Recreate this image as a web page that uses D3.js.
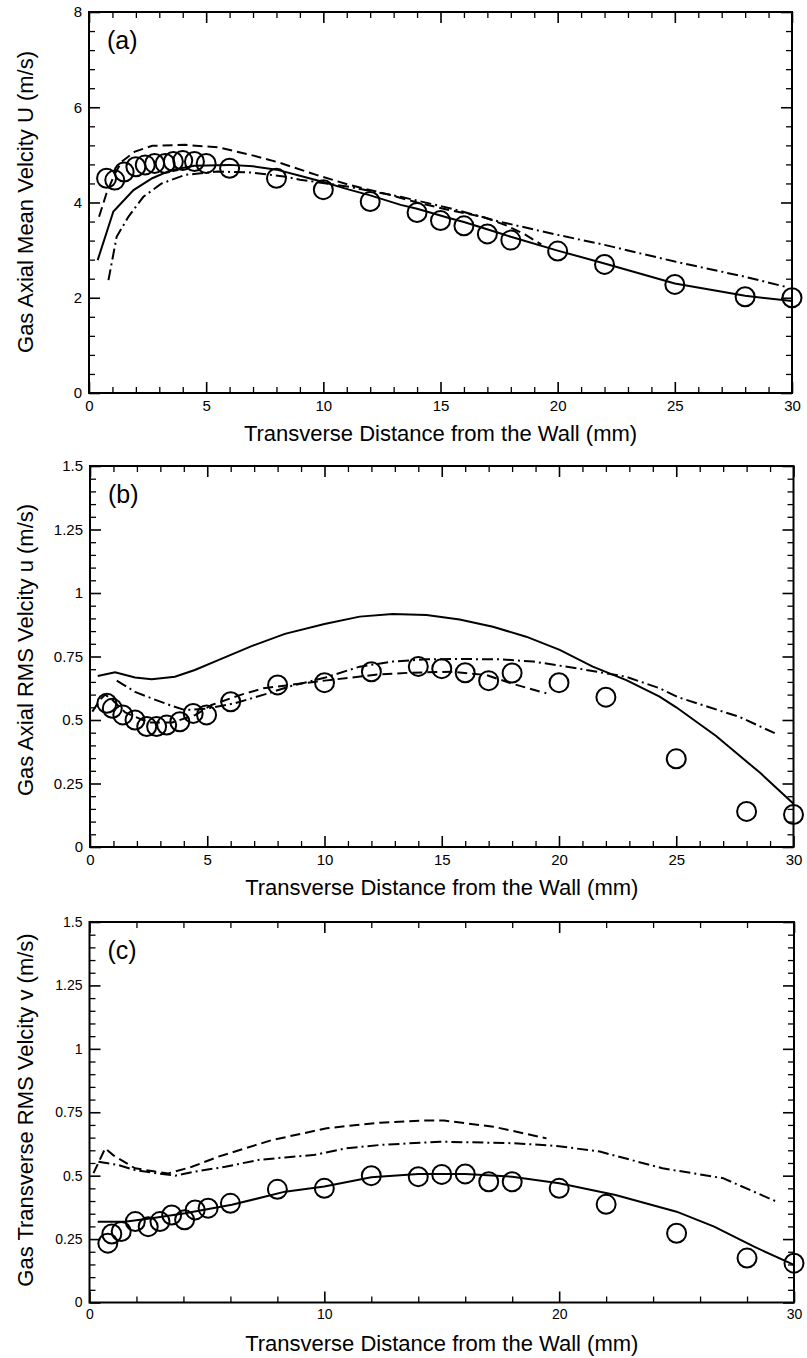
<!DOCTYPE html>
<html><head><meta charset="utf-8">
<script src="https://cdn.jsdelivr.net/npm/d3@7/dist/d3.min.js"></script>
<style>
body{margin:0;background:#fff}
svg{display:block}
text{font-family:"Liberation Sans",Arial,Helvetica,sans-serif;fill:#000}
</style>
</head><body>
<svg id="chart" width="807" height="1358"></svg>
<script>
// ---------- Panel (a): gas axial mean velocity U ----------
const aExpX = [0.75,1.1,1.5,2.0,2.4,2.8,3.25,3.6,4.0,4.5,5.0,6.0,8.0,10,12,14,15,16,17,18,20,22,25,28,30];
const aExpY = [4.51,4.47,4.64,4.75,4.79,4.82,4.82,4.86,4.88,4.86,4.82,4.72,4.51,4.27,4.02,3.79,3.62,3.51,3.34,3.21,2.98,2.70,2.28,2.02,2.0];
const aSolidX = [0.37,1.04,1.9,2.7,3.5,4.5,6.0,7.0,8.0,9.0,10,11.1,12,13.3,14,15.4,16,17.5,18,20,22,25,28,30];
const aSolidY = [2.79,3.81,4.26,4.51,4.68,4.77,4.79,4.76,4.69,4.56,4.43,4.27,4.15,3.95,3.87,3.67,3.59,3.36,3.28,2.99,2.72,2.30,2.04,1.93];
const aDashX = [0.43,0.75,1.1,1.4,1.96,2.7,4.1,5.5,6.9,8.1,9.7,11.1,12.85,14,15.4,16.8,17.8,18.6,19.3];
const aDashY = [3.70,4.2,4.6,4.86,5.07,5.19,5.21,5.16,5.0,4.84,4.58,4.37,4.16,4.0,3.84,3.7,3.52,3.33,3.12];
const aDotX = [0.83,1.18,1.68,2.32,3.1,4.1,5.5,6.9,8.4,9.0,11.1,13.3,15.4,17.5,20,22,25,28,29.8];
const aDotY = [2.37,3.28,3.70,4.12,4.40,4.58,4.65,4.63,4.54,4.48,4.33,4.12,3.88,3.6,3.32,3.11,2.76,2.44,2.22];

// ---------- Panel (b): gas axial RMS velocity u ----------
const bExpX = [0.72,0.95,1.4,1.92,2.42,2.84,3.27,3.83,4.4,4.97,6,8,10,12,14,15,16,17,18,20,22,25,28,30];
const bExpY = [0.566,0.546,0.52,0.50,0.474,0.474,0.48,0.493,0.526,0.52,0.572,0.638,0.647,0.69,0.711,0.702,0.686,0.655,0.685,0.647,0.59,0.347,0.14,0.128];
const bSolidX = [0.33,1.07,1.92,2.63,3.62,4.47,5.47,6.89,8.31,10,11.5,12.9,14.35,15.76,17.18,18.6,20.03,21.44,22.87,24.29,25,26.7,28.6,30];
const bSolidY = [0.673,0.688,0.667,0.66,0.67,0.697,0.736,0.791,0.839,0.878,0.907,0.917,0.913,0.896,0.867,0.828,0.776,0.71,0.657,0.592,0.55,0.437,0.29,0.17];
const bDashX = [0.1,0.43,0.65,1.0,1.5,2.5,3.5,4.5,5.18,6.46,7.4,8,10,12.36,13.63,15.48,16.9,18.04,19.46];
const bDashY = [0.533,0.58,0.6,0.575,0.53,0.49,0.49,0.52,0.559,0.6,0.625,0.632,0.655,0.68,0.686,0.69,0.677,0.642,0.605];
const bDotX = [1.14,1.92,2.63,3.48,4.05,5.0,6.18,7.6,8.5,10,11.5,12.9,14.35,15.76,17.47,18.9,20.74,22.87,24.29,25.1,27.7,29.2];
const bDotY = [0.655,0.611,0.585,0.556,0.539,0.545,0.566,0.605,0.632,0.666,0.71,0.73,0.739,0.74,0.739,0.73,0.704,0.67,0.625,0.589,0.512,0.448];

// ---------- Panel (c): gas transverse RMS velocity v ----------
const cExpX = [0.78,0.95,1.35,1.95,2.5,3.0,3.5,4.05,4.5,5.05,6,8,10,12,14,15,16,17,18,20,22,25,28,30];
const cExpY = [0.234,0.27,0.28,0.319,0.299,0.319,0.345,0.326,0.365,0.372,0.391,0.446,0.45,0.50,0.496,0.505,0.507,0.476,0.476,0.45,0.387,0.273,0.175,0.155];
const cSolidX = [0.35,1.5,2.65,4.07,6.06,8.33,10,12,14,16,18,20,22.4,25,26.6,28.3,30];
const cSolidY = [0.318,0.318,0.332,0.352,0.385,0.437,0.457,0.494,0.507,0.507,0.496,0.47,0.424,0.358,0.299,0.22,0.148];
const cDashX = [0.17,0.67,1.02,1.94,2.8,3.36,4.36,5.49,6.63,7.76,10.1,12.37,14.07,15.1,17.2,19.46];
const cDashY = [0.51,0.608,0.58,0.529,0.516,0.509,0.535,0.575,0.608,0.64,0.687,0.709,0.717,0.717,0.693,0.647];
const cDotX = [0.38,1.23,1.94,2.66,3.65,4.5,5.78,7.19,8.33,9.53,10.95,12.37,14.92,18.04,19.9,21.73,24.4,26.98,29.25];
const cDotY = [0.555,0.542,0.522,0.512,0.5,0.516,0.535,0.562,0.572,0.581,0.608,0.621,0.634,0.628,0.617,0.595,0.529,0.49,0.398];

// ---------- axis ticks / labels ----------
const xMajor5 = [0,5,10,15,20,25,30];
const xMajor10 = [0,10,20,30];
const yMajorA = [0,2,4,6,8];
const yMajorRMS = [0,0.25,0.5,0.75,1,1.25,1.5];
const xTitle = "Transverse Distance from the Wall (mm)";
const yTitles = ["Gas Axial Mean Velcity U (m/s)","Gas Axial RMS Velcity u (m/s)","Gas Transverse RMS Velcity v (m/s)"];
const panelTags = ["(a)","(b)","(c)"];

const svg = d3.select("#chart");
svg.append("rect").attr("width",807).attr("height",1358).attr("fill","#fff");

const zip = (xs, ys) => xs.map((v,i)=>[v, ys[i]]);

const panels = [
  {l:89, r:792, t:12, b:393, ymax:8, xMaj:xMajor5, xMinStep:1, yMaj:yMajorA, yMinStep:0.4, fs:15, ytc:202,
   exp:zip(aExpX,aExpY), solid:zip(aSolidX,aSolidY), dash:zip(aDashX,aDashY), dot:zip(aDotX,aDotY)},
  {l:90, r:793.5, t:466, b:847, ymax:1.5, xMaj:xMajor5, xMinStep:1, yMaj:yMajorRMS, yMinStep:0.05, fs:15, ytc:650,
   exp:zip(bExpX,bExpY), solid:zip(bSolidX,bSolidY), dash:zip(bDashX,bDashY), dot:zip(bDotX,bDotY)},
  {l:89.5, r:794, t:922, b:1302.5, ymax:1.5, xMaj:xMajor10, xMinStep:2, yMaj:yMajorRMS, yMinStep:0.05, fs:14, ytc:1110,
   exp:zip(cExpX,cExpY), solid:zip(cSolidX,cSolidY), dash:zip(cDashX,cDashY), dot:zip(cDotX,cDotY)}
];

const notIn = (arr) => v => !arr.some(m => Math.abs(m - v) < 1e-6);

panels.forEach((p, i) => {
  const x = d3.scaleLinear().domain([0,30]).range([p.l, p.r]);
  const y = d3.scaleLinear().domain([0,p.ymax]).range([p.b, p.t]);
  const g = svg.append("g");

  const xMinor = d3.range(0, 30 + 1e-6, p.xMinStep).filter(notIn(p.xMaj));
  const yMinor = d3.range(0, p.ymax + 1e-6, p.yMinStep).filter(notIn(p.yMaj));
  const fmt = d => String(+d.toFixed(2));

  const defs = [
    [d3.axisBottom(x), `translate(0,${p.b})`, true, 'x'],
    [d3.axisTop(x), `translate(0,${p.t})`, false, 'x'],
    [d3.axisLeft(y), `translate(${p.l},0)`, true, 'y'],
    [d3.axisRight(y), `translate(${p.r},0)`, false, 'y']
  ];
  defs.forEach(([ax, tr, lab, dim]) => {
    const maj = dim === 'x' ? p.xMaj : p.yMaj;
    const mn = dim === 'x' ? xMinor : yMinor;
    const gm = g.append("g").attr("transform", tr)
      .call(ax.tickValues(maj).tickSizeInner(-11).tickSizeOuter(0).tickPadding(dim==='x'?7:7)
        .tickFormat(lab ? fmt : () => ""));
    gm.select(".domain").remove();
    gm.selectAll("line").attr("stroke","#000").attr("stroke-width",1.6);
    gm.selectAll("text").attr("font-size", p.fs).attr("font-family",'"Liberation Sans",Arial,sans-serif').attr("fill","#000");
    const gn = g.append("g").attr("transform", tr)
      .call((dim==='x' ? (tr.includes(`${p.b})`) ? d3.axisBottom(x) : d3.axisTop(x)) :
             (tr.startsWith(`translate(${p.l},`) ? d3.axisLeft(y) : d3.axisRight(y)))
        .tickValues(mn).tickSizeInner(-6).tickSizeOuter(0).tickFormat(() => ""));
    gn.select(".domain").remove();
    gn.selectAll("line").attr("stroke","#000").attr("stroke-width",1.3);
  });

  // frame
  g.append("rect").attr("x", p.l).attr("y", p.t).attr("width", p.r - p.l).attr("height", p.b - p.t)
    .attr("fill","none").attr("stroke","#000").attr("stroke-width",2);

  const line = d3.line().x(d => x(d[0])).y(d => y(d[1]));
  g.append("path").datum(p.solid).attr("d", line).attr("fill","none").attr("stroke","#000").attr("stroke-width",2);
  g.append("path").datum(p.dash).attr("d", line).attr("fill","none").attr("stroke","#000").attr("stroke-width",2)
    .attr("stroke-dasharray","10,5");
  g.append("path").datum(p.dot).attr("d", line).attr("fill","none").attr("stroke","#000").attr("stroke-width",2)
    .attr("stroke-dasharray","11,4,2,4");

  g.selectAll("circle.exp").data(p.exp).enter().append("circle").attr("class","exp")
    .attr("cx", d => x(d[0])).attr("cy", d => y(d[1])).attr("r", 9.5)
    .attr("fill","none").attr("stroke","#000").attr("stroke-width",2);

  // panel tag
  g.append("text").attr("x", p.l + 18).attr("y", p.t + 37).attr("font-size", 25).text(panelTags[i]);

  // axis titles
  g.append("text").attr("x", (p.l + p.r) / 2).attr("y", p.b + 48).attr("text-anchor","middle")
    .attr("font-size", 22).text(xTitle);
  g.append("text").attr("transform", `translate(33,${p.ytc}) rotate(-90)`).attr("text-anchor","middle")
    .attr("font-size", 22).text(yTitles[i]);
});
</script>
</body></html>
